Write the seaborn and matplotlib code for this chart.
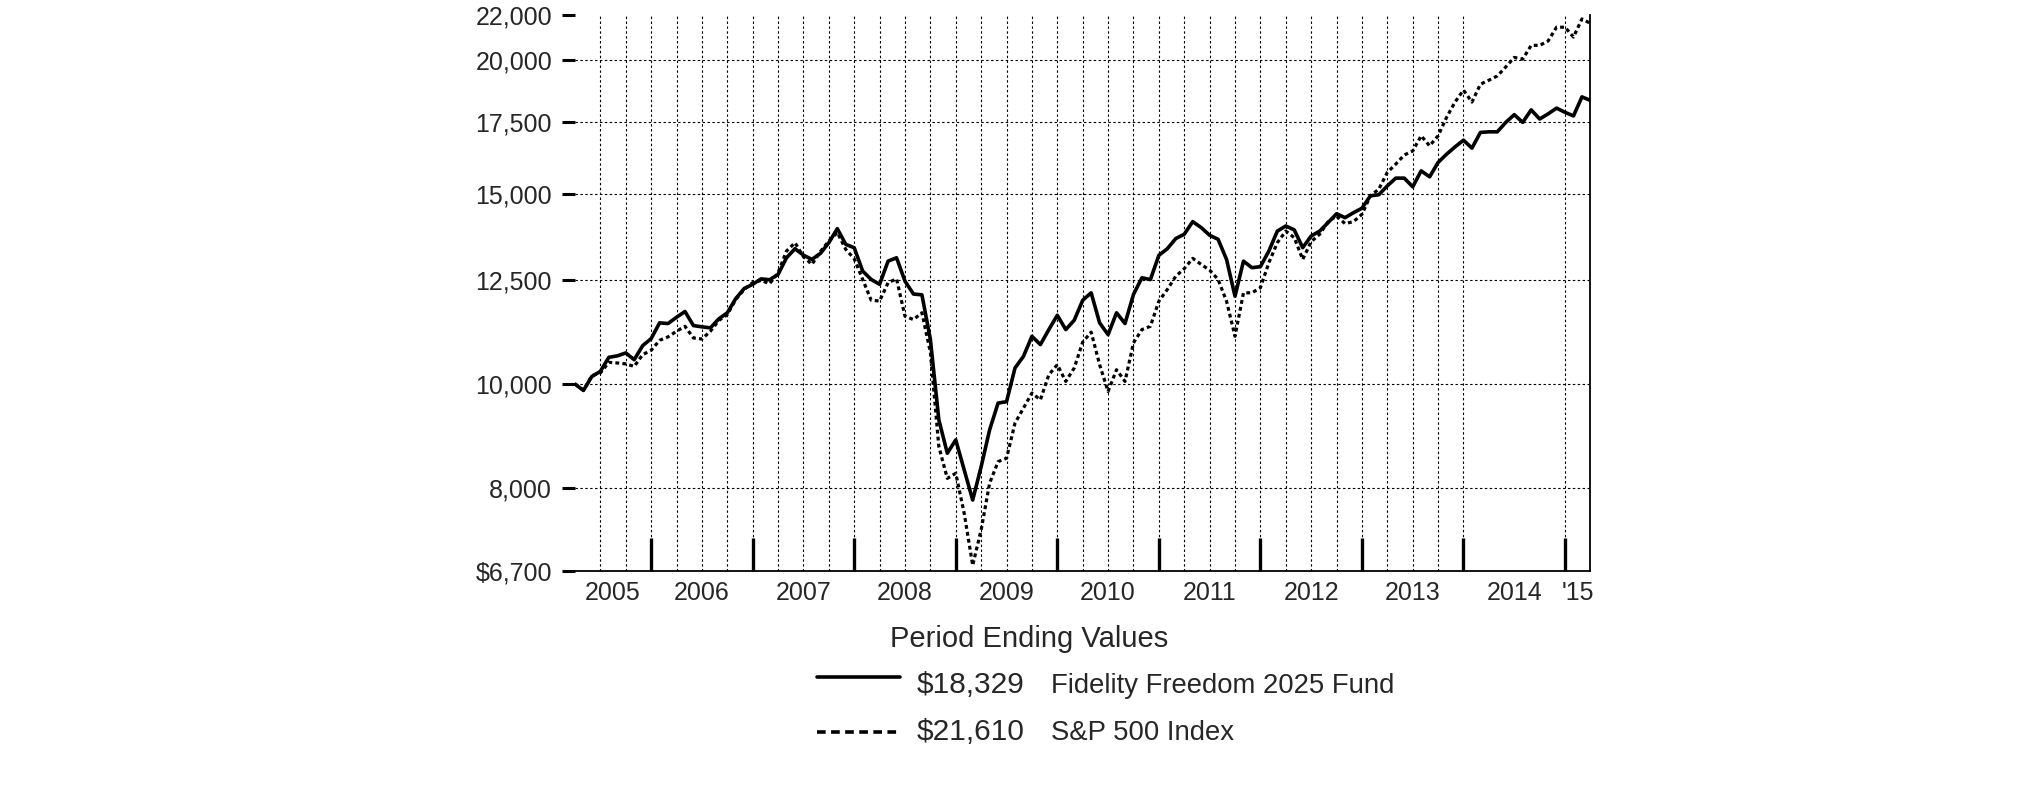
import numpy as np
import pandas as pd
import matplotlib.pyplot as plt
from matplotlib.lines import Line2D
import seaborn as sns

# month-end values, Mar 2005 .. Mar 2015 (growth of $10,000)
fund = [
    10000, 9864, 10164, 10274, 10587, 10620, 10687, 10534, 10855, 11018,
    11396, 11380, 11533, 11676, 11330, 11300, 11275, 11494, 11644, 12003,
    12265, 12374, 12520, 12495, 12639, 13097, 13352, 13170, 13050, 13219,
    13525, 13937, 13477, 13380, 12729, 12504, 12374, 13002, 13097, 12458,
    12120, 12100, 11000, 9264, 8626, 8874, 8322, 7805, 8381, 9067,
    9601, 9630, 10349, 10609, 11074, 10879, 11234, 11583, 11234, 11461,
    11960, 12152, 11396, 11114, 11644, 11380, 12109, 12549, 12500, 13165,
    13352, 13646, 13771, 14148, 13970, 13742, 13624, 13050, 12064, 13002,
    12822, 12850, 13286, 13864, 14017, 13900, 13383, 13720, 13864, 14118,
    14389, 14268, 14420, 14559, 14950, 14985, 15271, 15526, 15526, 15240,
    15769, 15569, 16054, 16340, 16597, 16838, 16553, 17118, 17140, 17140,
    17490, 17780, 17490, 17963, 17616, 17810, 18030, 17870, 17733, 18469,
    18329,
]
sp500 = [
    10000, 9870, 10180, 10240, 10474, 10460, 10440, 10384, 10648, 10747,
    10979, 11060, 11193, 11313, 11034, 11010, 11193, 11455, 11600, 11980,
    12240, 12418, 12480, 12390, 12684, 13286, 13525, 13125, 12913, 13270,
    13573, 13822, 13334, 13069, 12504, 11962, 11940, 12417, 12520, 11559,
    11476, 11645, 10700, 8748, 8175, 8264, 7584, 6789, 7323, 8090,
    8472, 8534, 9198, 9499, 9809, 9669, 10201, 10422, 10056, 10349,
    10937, 11174, 10422, 9843, 10311, 10056, 10918, 11234, 11313, 11935,
    12239, 12590, 12795, 13080, 12913, 12756, 12504, 11935, 11074, 12152,
    12152, 12283, 12960, 13525, 13864, 13673, 13050, 13554, 13771, 14148,
    14318, 14088, 14148, 14370, 14950, 15167, 15716, 15999, 16312, 16452,
    16996, 16634, 16996, 17678, 18265, 18738, 18265, 18975, 19137, 19314,
    19690, 20092, 20020, 20618, 20618, 20810, 21434, 21434, 20988, 21815,
    21610,
]
month = np.arange(len(fund))

year_labels = ["2005", "2006", "2007", "2008", "2009", "2010",
               "2011", "2012", "2013", "2014", "'15"]
y_ticks = [6700, 8000, 10000, 12500, 15000, 17500, 20000, 22000]
y_ticklabels = ["$6,700", "8,000", "10,000", "12,500", "15,000",
                "17,500", "20,000", "22,000"]
legend_values = ["$18,329", "$21,610"]
legend_names = ["Fidelity Freedom 2025 Fund", "S&P 500 Index"]

df = pd.DataFrame({"month": month, "fund": fund, "sp500": sp500})

sns.set_style("white")
plt.rcParams["font.family"] = ["Liberation Sans", "DejaVu Sans"]

fig = plt.figure(figsize=(20.26, 7.85), dpi=100)
ax = fig.add_axes([0.2838, 0.2720, 0.5012, 0.7089])

dotted_grid = dict(color="black", lw=0.8, ls=(0, (2.2, 2.2)), zorder=0)
for v in y_ticks[1:-1]:
    ax.axhline(v, **dotted_grid)
# quarterly grid stops at the start of 2014, plus the 2015 boundary
for q in list(range(3, 106, 3)) + [117]:
    ax.axvline(q, **dotted_grid)

sns.lineplot(data=df, x="month", y="sp500", ax=ax, color="black",
             lw=2.3, ls=(0, (1.2, 1.0)), legend=False, zorder=3)
sns.lineplot(data=df, x="month", y="fund", ax=ax, color="black",
             lw=2.6, legend=False, zorder=4)

ax.set_yscale("log")
ax.set_ylim(6700, 22000)
ax.set_xlim(0, 120)
ax.set_yticks(y_ticks)
ax.set_yticklabels(y_ticklabels)
ax.yaxis.set_minor_locator(plt.NullLocator())
ax.tick_params(axis="y", which="major", left=True, direction="out",
               length=9.5, width=2.2, pad=7, labelsize=18, color="black")

year_bounds = list(range(9, 118, 12))
label_pos = [4.5] + [b + 6 for b in year_bounds[:-1]] + [118.5]
ax.set_xticks(year_bounds)
ax.set_xticklabels([""] * len(year_bounds))
ax.set_xticks(label_pos, minor=True)
ax.set_xticklabels(year_labels, minor=True)
ax.tick_params(axis="x", which="major", bottom=True, direction="in",
               length=24, width=2.4, color="black")
ax.tick_params(axis="x", which="minor", bottom=True, length=0, pad=7,
               labelsize=18)

ax.set_xlabel("")
ax.set_ylabel("")
for side in ["left", "top"]:
    ax.spines[side].set_visible(False)
for side in ["right", "bottom"]:
    ax.spines[side].set_color("black")
    ax.spines[side].set_linewidth(1.3)

# period ending values block
fig.text(0.5079, 0.1758, "Period Ending Values", ha="center",
         va="baseline", fontsize=21)
rows_y = [0.1172, 0.0573]
line_y = [0.1376, 0.0675]
styles = [dict(ls="-"), dict(ls=(0, (2.4, 1.5)))]
for val, name, ty, ly, st in zip(legend_values, legend_names, rows_y,
                                 line_y, styles):
    fig.add_artist(Line2D([0.4033, 0.4442], [ly, ly], color="black",
                          lw=2.6, transform=fig.transFigure, **st))
    fig.text(0.4525, ty, val, ha="left", va="baseline", fontsize=21.5)
    fig.text(0.5188, ty, name, ha="left", va="baseline", fontsize=19.8)

fig.savefig("out.png", dpi=100, facecolor="white")
